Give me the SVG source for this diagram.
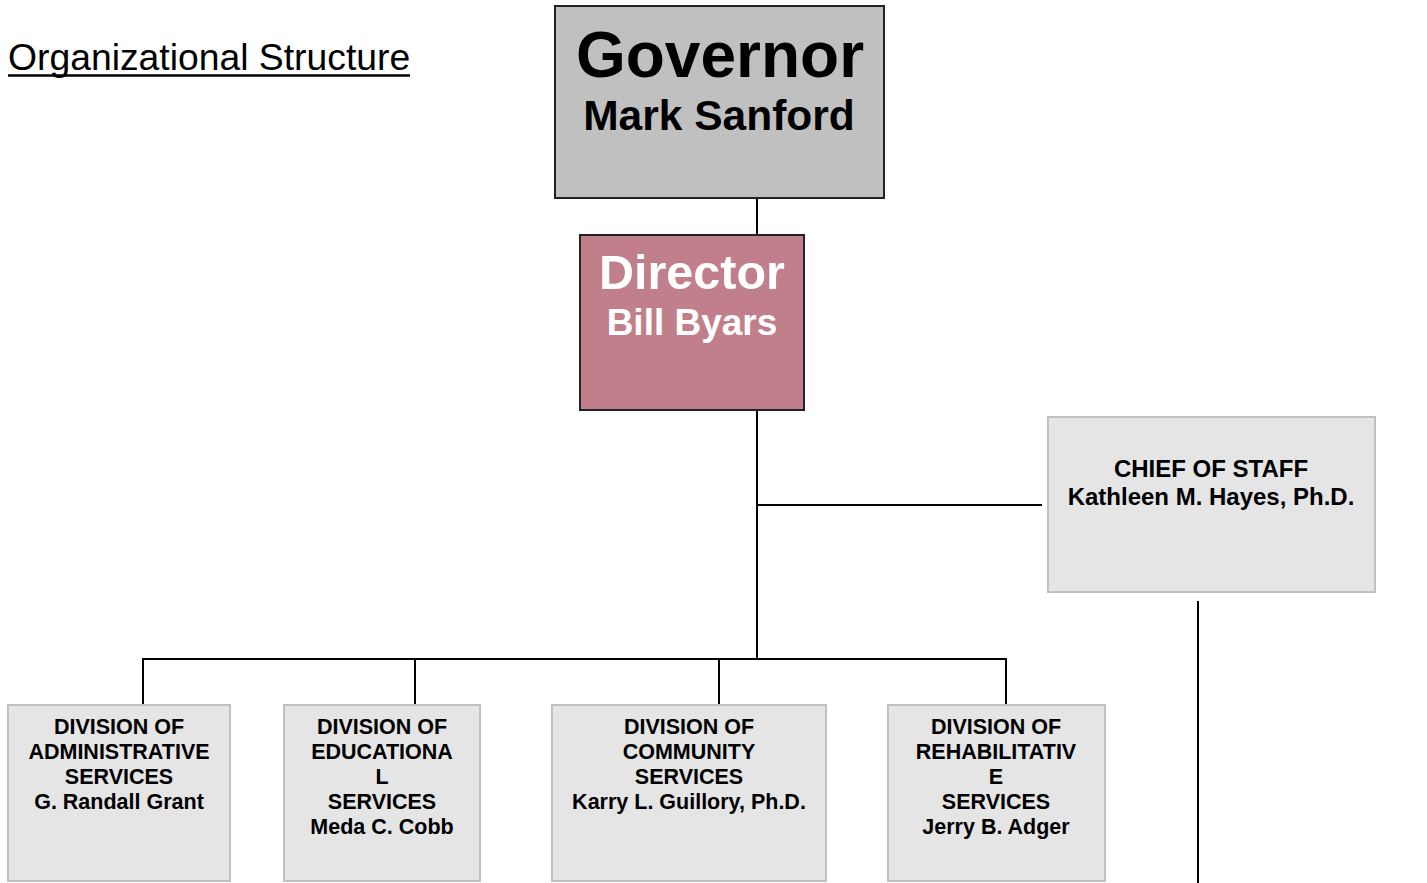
<svg xmlns="http://www.w3.org/2000/svg" width="1427" height="883" viewBox="0 0 1427 883">
<style>
text{font-family:"Liberation Sans",Arial,sans-serif;font-weight:bold;text-anchor:middle}
.div rect{fill:#e5e5e5;stroke:#c0c0c0;stroke-width:2}
.div text{font-size:21.5px;fill:#000}
.conn line{stroke:#000;stroke-width:2}
</style>
<rect width="1427" height="883" fill="#fff"/>
<text x="8" y="70" style="font-weight:normal;text-anchor:start;font-size:37.3px" fill="#000">Organizational Structure</text>
<line x1="8" y1="75.5" x2="410" y2="75.5" stroke="#000" stroke-width="2.5"/>
<g class="conn">
<line x1="757" y1="198" x2="757" y2="236"/>
<line x1="757" y1="410" x2="757" y2="659"/>
<line x1="757" y1="505" x2="1042" y2="505"/>
<line x1="142" y1="659" x2="1007" y2="659"/>
<line x1="143" y1="658" x2="143" y2="706"/>
<line x1="415" y1="658" x2="415" y2="706"/>
<line x1="719" y1="658" x2="719" y2="706"/>
<line x1="1006" y1="658" x2="1006" y2="706"/>
<line x1="1198" y1="601" x2="1198" y2="883"/>
</g>
<g id="governor">
<rect x="555" y="6" width="329" height="192" fill="#c0c0c0" stroke="#222" stroke-width="2"/>
<text x="720" y="77" font-size="64" fill="#000">Governor</text>
<text x="719" y="130" font-size="42.5" fill="#000">Mark Sanford</text>
</g>
<g id="director">
<rect x="580" y="235" width="224" height="175" fill="#c17f8b" stroke="#222" stroke-width="2"/>
<text x="692" y="289" font-size="48.5" fill="#fff">Director</text>
<text x="692" y="335" font-size="37" fill="#fff">Bill Byars</text>
</g>
<g id="chief" class="div">
<rect x="1048" y="417" width="327" height="175"/>
<text x="1211" y="477" style="font-size:24px">CHIEF OF STAFF</text>
<text x="1211" y="505" style="font-size:24px">Kathleen M. Hayes, Ph.D.</text>
</g>
<g id="div-admin" class="div">
<rect x="8" y="705" width="222" height="176"/>
<text x="119" y="734">DIVISION OF</text>
<text x="119" y="759">ADMINISTRATIVE</text>
<text x="119" y="784">SERVICES</text>
<text x="119" y="809">G. Randall Grant</text>
</g>
<g id="div-edu" class="div">
<rect x="284" y="705" width="196" height="176"/>
<text x="382" y="734">DIVISION OF</text>
<text x="382" y="759">EDUCATIONA</text>
<text x="382" y="784">L</text>
<text x="382" y="809">SERVICES</text>
<text x="382" y="834">Meda C. Cobb</text>
</g>
<g id="div-comm" class="div">
<rect x="552" y="705" width="274" height="176"/>
<text x="689" y="734">DIVISION OF</text>
<text x="689" y="759">COMMUNITY</text>
<text x="689" y="784">SERVICES</text>
<text x="689" y="809">Karry L. Guillory, Ph.D.</text>
</g>
<g id="div-rehab" class="div">
<rect x="888" y="705" width="217" height="176"/>
<text x="996" y="734">DIVISION OF</text>
<text x="996" y="759">REHABILITATIV</text>
<text x="996" y="784">E</text>
<text x="996" y="809">SERVICES</text>
<text x="996" y="834">Jerry B. Adger</text>
</g>
</svg>
